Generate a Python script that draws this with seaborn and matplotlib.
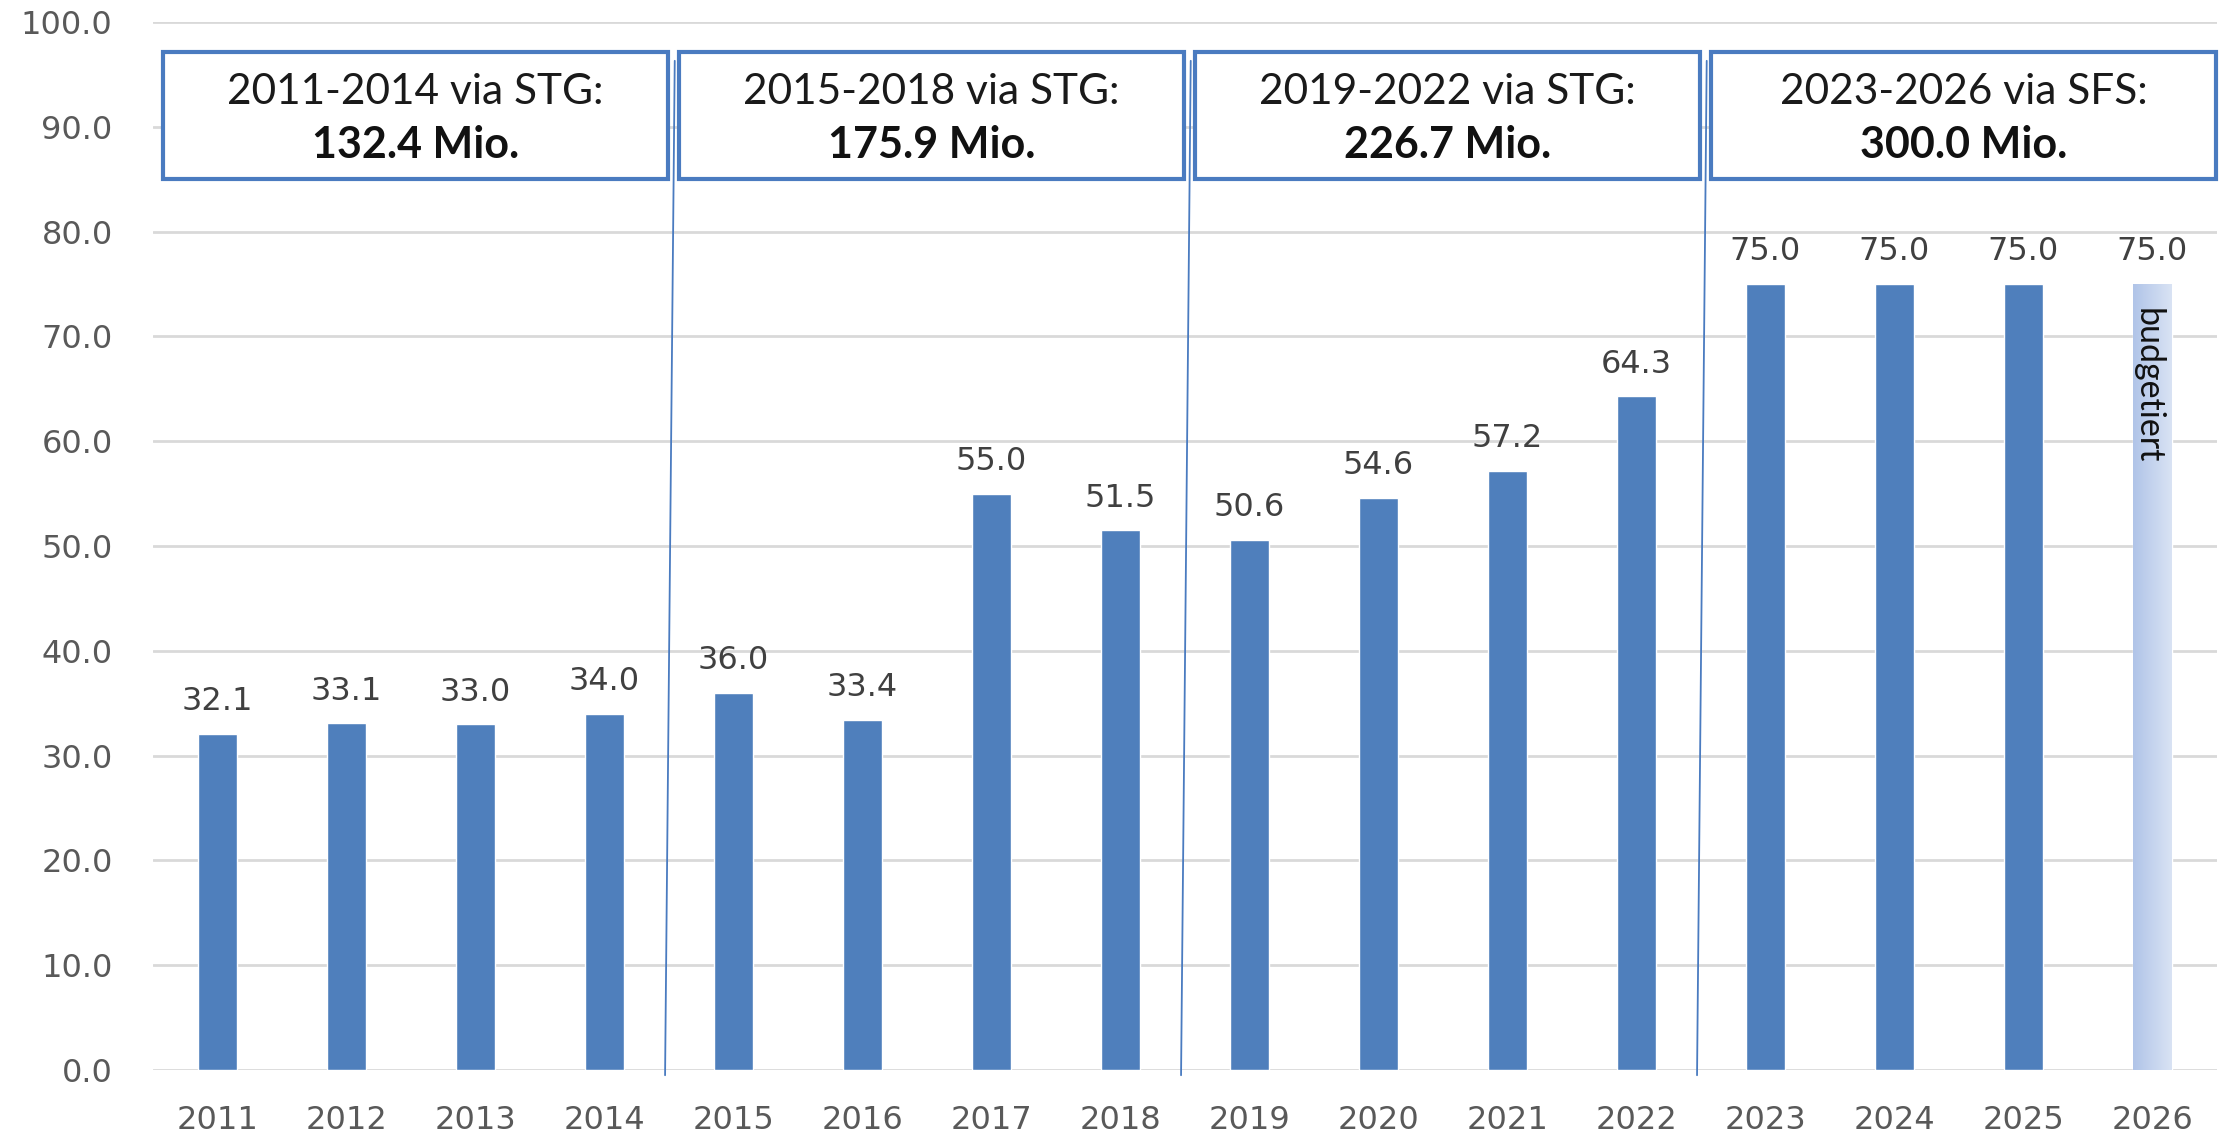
import numpy as np
import matplotlib
matplotlib.use("Agg")
import matplotlib.pyplot as plt
from matplotlib.patches import Rectangle
from matplotlib.colors import LinearSegmentedColormap
import seaborn as sns

# ---- data ----
years = ["2011", "2012", "2013", "2014", "2015", "2016", "2017", "2018",
         "2019", "2020", "2021", "2022", "2023", "2024", "2025", "2026"]
values = [32.1, 33.1, 33.0, 34.0, 36.0, 33.4, 55.0, 51.5,
          50.6, 54.6, 57.2, 64.3, 75.0, 75.0, 75.0, 75.0]
group_titles = ["2011-2014 via STG:", "2015-2018 via STG:",
                "2019-2022 via STG:", "2023-2026 via SFS:"]
group_totals = ["132.4 Mio.", "175.9 Mio.", "226.7 Mio.", "300.0 Mio."]
budget_note = "budgetiert"
y_ticks = [0, 10, 20, 30, 40, 50, 60, 70, 80, 90, 100]

BLUE = "#4f7fbc"
LIGHT = "#c6d5ee"
BOX_EDGE = "#4a7bc0"
LBL_FONT = ["DejaVu Sans"]
BOX_FONT = ["Lato", "DejaVu Sans"]

sns.set_theme(style="white")
plt.rcParams['font.family'] = ['DejaVu Sans']

fig = plt.figure(figsize=(22.2, 11.36), dpi=100)
ax = fig.add_axes([0.0689, 0.0581, 0.9297, 0.9225])

colors = [BLUE] * (len(years) - 1) + [LIGHT]
sns.barplot(x=years, y=values, hue=years, palette=colors, legend=False,
            width=0.3, ax=ax, saturation=1, zorder=3)

ax.set_xlim(-0.5, len(years) - 0.5)
ax.set_ylim(0, 100)
ax.set_yticks(y_ticks)
ax.set_yticklabels([f"{v:.1f}" for v in y_ticks])
ax.yaxis.grid(True, color="#d9d9d9", linewidth=2.0, zorder=0)
ax.xaxis.grid(False)
ax.set_axisbelow(True)
for s in ax.spines.values():
    s.set_visible(False)
ax.tick_params(axis="both", length=0, labelsize=23, colors="#595959")
ax.tick_params(axis="y", pad=29)
ax.tick_params(axis="x", pad=25)
ax.set_xlabel("")
ax.set_ylabel("")

# gradient on last (budgeted) bar
last = None
for p in ax.patches:
    cx = p.get_x() + p.get_width() / 2
    if abs(cx - (len(years) - 1)) < 0.01:
        last = p
if last is not None:
    cmap = LinearSegmentedColormap.from_list("g", ["#b0c4e8", "#d9e3f4"])
    grad = np.linspace(0, 1, 256).reshape(1, -1)
    x0 = last.get_x()
    im = ax.imshow(grad, cmap=cmap, aspect="auto",
                   extent=[x0, x0 + last.get_width(), 0, last.get_height()],
                   zorder=4)
    im.set_clip_path(last)
    ax.set_xlim(-0.5, len(years) - 0.5)
    ax.set_ylim(0, 100)
    ax.text(len(years) - 1 - 0.04, values[-1] - 2.3, budget_note,
            rotation=270, ha="center", va="top", fontsize=24.5,
            family=BOX_FONT, color="#111111", zorder=6)

# value labels
for i, v in enumerate(values):
    ax.annotate(f"{v:.1f}", (i, v), xytext=(0, 17), textcoords="offset points",
                ha="center", va="baseline", fontsize=23, family=LBL_FONT,
                color="#404040", zorder=6)

# group boxes
n_groups = len(group_titles)
for g in range(n_groups):
    left = g * 4 - 0.42
    right = min(g * 4 + 3.49, len(years) - 0.5)
    rect = Rectangle((left, 85.0), right - left, 12.1, facecolor="white",
                     edgecolor=BOX_EDGE, linewidth=3, zorder=7, clip_on=False)
    ax.add_patch(rect)
    cx = (left + right) / 2
    ax.text(cx, 93.3, group_titles[g], ha="center", va="center", fontsize=30.5,
            family=BOX_FONT, color="#1a1a1a", zorder=8)
    ax.text(cx, 88.3, group_totals[g], ha="center", va="center", fontsize=31,
            fontweight="bold", family=BOX_FONT, color="#111111", zorder=8)

# slanted separators between groups
for g in range(1, n_groups):
    xb = g * 4 - 0.53
    xt = g * 4 - 0.455
    ax.plot([xb, xt], [-0.5, 96.3], color="#4a7bc0", linewidth=1.3,
            zorder=6, clip_on=False)

fig.savefig("out.png", dpi=100)
